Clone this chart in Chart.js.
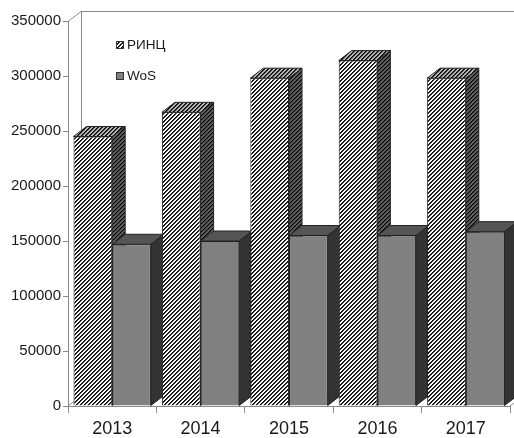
<!DOCTYPE html>
<html>
<head>
<meta charset="utf-8">
<script src="https://cdn.jsdelivr.net/npm/chart.js@4.4.1/dist/chart.umd.min.js"></script>
<style>
  html, body { margin: 0; padding: 0; background: #fff; }
  #wrap { width: 514px; height: 438px; position: relative; }
</style>
</head>
<body>
<div id="wrap"><canvas id="chart"></canvas></div>
<script>
// publications per year
const years = ['2013', '2014', '2015', '2016', '2017'];
const rincValues = [245000, 267000, 298000, 314000, 298000];
const wosValues = [147000, 150000, 155000, 155000, 158500];
const yTicks = [0, 50000, 100000, 150000, 200000, 250000, 300000, 350000];

// depth of the fake 3D boxes
const DX = 13, DY = 10;
const EDGE = '#222';
const WALL = '#8a8a8a';
const FONT = '"Liberation Sans", Arial, sans-serif';

// "/" hatch tile: dark stripes over a given background
function hatch(bg) {
  const c = document.createElement('canvas');
  c.width = 4; c.height = 4;
  const g = c.getContext('2d');
  g.fillStyle = bg;
  g.fillRect(0, 0, 4, 4);
  for (let y = 0; y < 4; y++) {
    for (let x = 0; x < 4; x++) {
      const k = (x + y) % 4;
      if (k === 0) { g.fillStyle = '#000'; g.fillRect(x, y, 1, 1); }
      if (k === 1) { g.fillStyle = '#3a3a3a'; g.fillRect(x, y, 1, 1); }
    }
  }
  return g.createPattern(c, 'repeat');
}

const box3d = {
  id: 'box3d',
  beforeDatasetsDraw(chart) {
    const { ctx, chartArea: a } = chart;
    ctx.save();
    ctx.lineWidth = 1;
    ctx.strokeStyle = WALL;
    // back wall and left wall edges
    ctx.beginPath();
    ctx.moveTo(a.left, a.top + 0.5);
    ctx.lineTo(a.left + DX, a.top - DY + 0.5);
    ctx.lineTo(chart.width, a.top - DY + 0.5);
    ctx.moveTo(a.left + DX + 0.5, a.top - DY);
    ctx.lineTo(a.left + DX + 0.5, a.bottom - DY);
    ctx.lineTo(a.right + DX, a.bottom - DY);
    ctx.moveTo(a.left, a.bottom);
    ctx.lineTo(a.left + DX, a.bottom - DY);
    ctx.moveTo(a.right, a.bottom);
    ctx.lineTo(a.right + DX, a.bottom - DY);
    ctx.stroke();

    // tops and sides, category by category so neighbours overlap properly
    ctx.strokeStyle = EDGE;
    const metas = chart.data.datasets.map((d, i) => chart.getDatasetMeta(i));
    years.forEach((y, i) => {
      metas.forEach((meta, di) => {
        const ds = chart.data.datasets[di];
        const bar = meta.data[i];
        const l = bar.x - bar.width / 2, r = bar.x + bar.width / 2;
        const t = bar.y, b = bar.base;
        ctx.beginPath();
        ctx.moveTo(l, t);
        ctx.lineTo(l + DX, t - DY);
        ctx.lineTo(r + DX, t - DY);
        ctx.lineTo(r, t);
        ctx.closePath();
        ctx.fillStyle = ds.topColor;
        ctx.fill();
        ctx.stroke();
        ctx.beginPath();
        ctx.moveTo(r, t);
        ctx.lineTo(r + DX, t - DY);
        ctx.lineTo(r + DX, b - DY);
        ctx.lineTo(r, b);
        ctx.closePath();
        ctx.fillStyle = ds.sideColor;
        ctx.fill();
        ctx.stroke();
      });
    });
    ctx.restore();
  },
  afterDraw(chart) {
    // legend sits inside the plot, top left
    const { ctx } = chart;
    ctx.save();
    ctx.font = '13.5px ' + FONT;
    ctx.textBaseline = 'middle';
    const rows = [45, 76];
    chart.data.datasets.forEach((ds, i) => {
      const y = rows[i];
      ctx.fillStyle = ds.backgroundColor;
      ctx.fillRect(117, y - 3, 6, 6);
      ctx.strokeStyle = '#333';
      ctx.lineWidth = 1;
      ctx.strokeRect(116.5, y - 3.5, 7, 7);
      ctx.fillStyle = '#1a1a1a';
      ctx.fillText(ds.label, 127, y);
    });
    ctx.restore();
  }
};

const ctx = document.getElementById('chart').getContext('2d');
new Chart(ctx, {
  type: 'bar',
  data: {
    labels: years,
    datasets: [
      {
        label: 'РИНЦ',
        data: rincValues,
        backgroundColor: hatch('#fff'),
        topColor: hatch('#b4b4b4'),
        sideColor: hatch('#606060'),
        borderColor: EDGE,
        borderWidth: 1
      },
      {
        label: 'WoS',
        data: wosValues,
        backgroundColor: '#808080',
        topColor: '#555',
        sideColor: '#333',
        borderColor: EDGE,
        borderWidth: 1
      }
    ]
  },
  options: {
    responsive: true,
    maintainAspectRatio: false,
    animation: false,
    layout: { padding: { top: 21, right: 4, left: 0, bottom: 0 } },
    plugins: {
      legend: { display: false },
      tooltip: { enabled: false }
    },
    datasets: {
      bar: { categoryPercentage: 0.875, barPercentage: 1.0 }
    },
    scales: {
      x: {
        grid: { display: true, drawOnChartArea: false, tickLength: 7, color: WALL, offset: true },
        border: { color: WALL },
        ticks: { color: '#1a1a1a', font: { size: 18, family: FONT }, padding: 5 },
        afterFit(s) { s.height = 32; }
      },
      y: {
        min: 0,
        max: 350000,
        afterBuildTicks(s) { s.ticks = yTicks.map(v => ({ value: v })); },
        grid: { display: true, drawOnChartArea: false, tickLength: 5, color: WALL },
        border: { color: WALL },
        ticks: {
          color: '#1a1a1a',
          font: { size: 15, family: FONT },
          padding: 2,
          callback: v => String(v)
        },
        afterFit(s) { s.width = 68; }
      }
    }
  },
  plugins: [box3d]
});
</script>
</body>
</html>
